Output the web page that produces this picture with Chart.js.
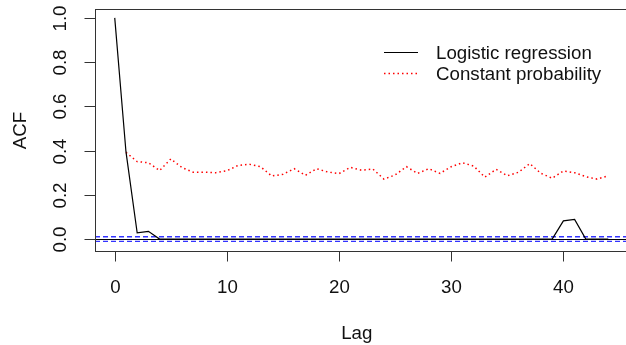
<!DOCTYPE html>
<html>
<head>
<meta charset="utf-8">
<script src="https://cdn.jsdelivr.net/npm/chart.js@4.4.0/dist/chart.umd.min.js"></script>
<style>
  html, body { margin: 0; padding: 0; background: #fff; overflow: hidden; }
  #wrap { width: 626px; height: 345px; overflow: hidden; }
</style>
</head>
<body>
<div id="wrap"><canvas id="acf-chart" width="660" height="345"></canvas></div>
<script>
// Lags and autocorrelations of the residuals
const lags = [0, 1, 2, 3, 4, 5, 6, 7, 8, 9, 10, 11, 12, 13, 14, 15, 16, 17, 18, 19, 20, 21,
  22, 23, 24, 25, 26, 27, 28, 29, 30, 31, 32, 33, 34, 35, 36, 37, 38, 39, 40, 41, 42, 43, 44];

const logisticAcf = [1.0, 0.395, 0.028, 0.035, 0, 0, 0, 0, 0, 0, 0, 0, 0, 0, 0, 0, 0, 0, 0, 0,
  0, 0, 0, 0, 0, 0, 0, 0, 0, 0, 0, 0, 0, 0, 0, 0, 0, 0, 0, 0, 0.082, 0.089, 0, 0, 0];

const constantAcf = [null, 0.392, 0.350, 0.345, 0.310, 0.362, 0.323, 0.302, 0.302, 0.300, 0.309,
  0.333, 0.338, 0.327, 0.285, 0.293, 0.318, 0.288, 0.318, 0.303, 0.296, 0.324, 0.311, 0.317,
  0.271, 0.290, 0.327, 0.297, 0.318, 0.297, 0.327, 0.345, 0.330, 0.280, 0.315, 0.286, 0.302,
  0.341, 0.297, 0.275, 0.308, 0.300, 0.282, 0.271, 0.286];

const seriesNames = ['Logistic regression', 'Constant probability'];
const xTicks = [0, 10, 20, 30, 40];
const yTicks = [0, 0.2, 0.4, 0.6, 0.8, 1.0];
const yTickLabels = ['0.0', '0.2', '0.4', '0.6', '0.8', '1.0'];
const ciBound = 0.0105;

const FONT = '18.7px "Liberation Sans", Arial, sans-serif';
const TEXT = '#111';
const DOTS = [1.5, 3];

function toPoints(values) {
  return lags.map((lag, i) => ({ x: lag, y: values[i] }));
}

// R-style frame: box, outward ticks, rotated y labels, legend
const basePlot = {
  id: 'basePlot',
  beforeDatasetsDraw(chart) {
    const { ctx, chartArea: a, scales: { y } } = chart;
    ctx.save();
    // zero line
    const y0 = Math.round(y.getPixelForValue(0)) + 0.5;
    ctx.strokeStyle = '#000';
    ctx.lineWidth = 1;
    ctx.beginPath();
    ctx.moveTo(a.left, y0);
    ctx.lineTo(a.right, y0);
    ctx.stroke();
    // confidence bounds
    ctx.strokeStyle = '#3333ff';
    ctx.lineWidth = 1.3;
    ctx.setLineDash([5, 3]);
    [ciBound, -ciBound].forEach(v => {
      const py = y.getPixelForValue(v);
      ctx.beginPath();
      ctx.moveTo(a.left, py);
      ctx.lineTo(a.right, py);
      ctx.stroke();
    });
    ctx.restore();
  },
  afterDraw(chart) {
    const { ctx, chartArea: a, scales: { x, y } } = chart;
    ctx.save();
    ctx.strokeStyle = '#333';
    ctx.lineWidth = 1;
    const L = Math.round(a.left) + 0.5, T = Math.round(a.top) + 0.5;
    const R = Math.round(a.right) + 0.5, B = Math.round(a.bottom) + 0.5;
    ctx.strokeRect(L, T, R - L, B - T);

    ctx.fillStyle = TEXT;
    ctx.font = FONT;

    // x axis
    ctx.textAlign = 'center';
    ctx.textBaseline = 'alphabetic';
    xTicks.forEach(v => {
      const px = Math.round(x.getPixelForValue(v)) + 0.5;
      ctx.beginPath();
      ctx.moveTo(px, B);
      ctx.lineTo(px, B + 10);
      ctx.stroke();
      ctx.fillText(String(v), px, 293);
    });
    ctx.fillText('Lag', (L + 612) / 2 + 3, 339);

    // y axis
    yTicks.forEach((v, i) => {
      const py = Math.round(y.getPixelForValue(v)) + 0.5;
      ctx.beginPath();
      ctx.moveTo(L, py);
      ctx.lineTo(L - 11, py);
      ctx.stroke();
      ctx.save();
      ctx.translate(66, py);
      ctx.rotate(-Math.PI / 2);
      ctx.fillText(yTickLabels[i], 0, 0);
      ctx.restore();
    });
    ctx.save();
    ctx.translate(26, (T + B) / 2);
    ctx.rotate(-Math.PI / 2);
    ctx.fillText('ACF', 0, 0);
    ctx.restore();

    // legend
    ctx.textAlign = 'left';
    ctx.lineWidth = 1.2;
    ctx.strokeStyle = '#000';
    ctx.beginPath();
    ctx.moveTo(384, 52.5);
    ctx.lineTo(418, 52.5);
    ctx.stroke();
    ctx.fillText(seriesNames[0], 436, 59);
    ctx.strokeStyle = '#ff0000';
    ctx.lineWidth = 1.5;
    ctx.setLineDash(DOTS);
    ctx.beginPath();
    ctx.moveTo(384, 73.5);
    ctx.lineTo(418, 73.5);
    ctx.stroke();
    ctx.setLineDash([]);
    ctx.fillText(seriesNames[1], 436, 80);
    ctx.restore();
  }
};

new Chart(document.getElementById('acf-chart'), {
  type: 'line',
  data: {
    datasets: [
      {
        label: seriesNames[0],
        data: toPoints(logisticAcf),
        borderColor: '#000',
        borderWidth: 1.2,
        pointRadius: 0,
        tension: 0
      },
      {
        label: seriesNames[1],
        data: toPoints(constantAcf),
        borderColor: '#ff0000',
        borderWidth: 1.5,
        borderDash: DOTS,
        pointRadius: 0,
        tension: 0,
        spanGaps: false
      }
    ]
  },
  options: {
    responsive: false,
    animation: false,
    layout: { padding: { left: 95, top: 9, right: 32, bottom: 94 } },
    scales: {
      x: { type: 'linear', min: -1.76, max: 45.76, display: false },
      y: { type: 'linear', min: -0.054, max: 1.04, display: false }
    },
    plugins: {
      legend: { display: false },
      tooltip: { enabled: false }
    }
  },
  plugins: [basePlot]
});
</script>
</body>
</html>
